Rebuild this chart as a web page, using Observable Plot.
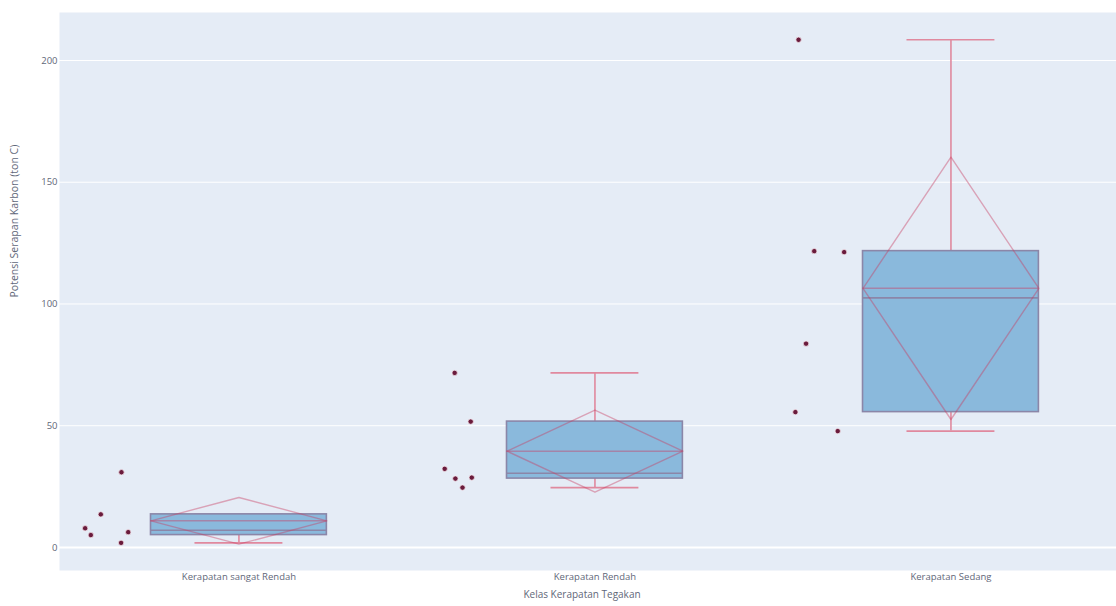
<!DOCTYPE html>
<html>
<head>
<meta charset="utf-8">
<script src="https://cdn.jsdelivr.net/npm/d3@7"></script>
<script src="https://cdn.jsdelivr.net/npm/@observablehq/plot@0.6"></script>
<style>
  html, body { margin: 0; padding: 0; background: #ffffff; }
  #chart svg { display: block; }
</style>
</head>
<body>
<div id="chart"></div>
<script>
// Stand density classes
const categories = ["Kerapatan sangat Rendah", "Kerapatan Rendah", "Kerapatan Sedang"];

// Carbon sequestration potential per plot (ton C), one list per class
const sangatRendah = [30.9, 13.6, 7.9, 5.1, 6.3, 1.9];
const rendah = [71.7, 51.7, 32.3, 28.3, 28.7, 24.6];
const sedang = [208.5, 121.7, 121.3, 83.7, 55.6, 47.8];

// Horizontal jitter of each plotted observation, in category widths from the class centre
const jitterSangatRendah = [-0.330, -0.388, -0.432, -0.416, -0.311, -0.331];
const jitterRendah = [-0.394, -0.349, -0.422, -0.392, -0.346, -0.372];
const jitterSedang = [-0.428, -0.384, -0.300, -0.407, -0.437, -0.318];

const yTicks = [0, 50, 100, 150, 200];
const xTitle = "Kelas Kerapatan Tegakan";
const yTitle = "Potensi Serapan Karbon (ton C)";

const groups = [sangatRendah, rendah, sedang];
const jitters = [jitterSangatRendah, jitterRendah, jitterSedang];

// Box statistics: quartiles as medians of lower / upper halves, 1.5 IQR whiskers, population SD
function stats(values, i) {
  const s = values.slice().sort(d3.ascending);
  const n = s.length;
  const half = Math.floor(n / 2);
  const lower = s.slice(0, half);
  const upper = s.slice(n % 2 ? half + 1 : half);
  const q1 = d3.median(lower), q3 = d3.median(upper), med = d3.median(s);
  const iqr = q3 - q1;
  const lo = d3.min(s.filter(v => v >= q1 - 1.5 * iqr));
  const hi = d3.max(s.filter(v => v <= q3 + 1.5 * iqr));
  const mean = d3.mean(s);
  const sd = Math.sqrt(d3.mean(s, v => (v - mean) ** 2));
  return {i, q1, q3, med, lo, hi, mean, sd};
}
const boxes = groups.map(stats);

const points = groups.flatMap((vals, i) => vals.map((v, j) => ({i, v, x: i + jitters[i][j]})));

const hw = 0.247;          // half box width (category units)
const cap = hw / 2;        // half whisker-cap width
const whiskerColor = "#e0899e";
const boxLine = "#8b86a8";
const meanColor = "rgba(200, 60, 95, 0.42)";

const diamond = boxes.flatMap(b => [
  {i: b.i, x: b.i - hw, y: b.mean},
  {i: b.i, x: b.i, y: b.mean + b.sd},
  {i: b.i, x: b.i + hw, y: b.mean},
  {i: b.i, x: b.i, y: b.mean - b.sd},
  {i: b.i, x: b.i - hw, y: b.mean}
]);

const chart = Plot.plot({
  width: 1116,
  height: 606,
  marginLeft: 59,
  marginRight: 0,
  marginTop: 12,
  marginBottom: 36,
  style: {fontFamily: "'Open Sans', sans-serif", fontSize: "9.5px", color: "#5f6779", background: "#ffffff"},
  x: {type: "linear", domain: [-0.504, 2.465]},
  y: {domain: [-9.45, 219.7]},
  marks: [
    Plot.frame({fill: "#E5ECF6", stroke: "none"}),
    Plot.gridY(yTicks, {stroke: "#ffffff", strokeOpacity: 1, strokeWidth: 1}),
    Plot.ruleY([0], {stroke: "#ffffff", strokeWidth: 2}),
    Plot.axisY(yTicks, {tickSize: 0, tickPadding: 2, label: null, fill: "#5f6779"}),
    Plot.axisX([0, 1, 2], {tickSize: 0, tickPadding: 3, label: null, tickFormat: d => categories[d], fill: "#5f6779"}),
    Plot.text([yTitle], {frameAnchor: "left", dx: -45, dy: 6, rotate: -90, fontSize: 10.5, fill: "#5f6779"}),
    Plot.text([xTitle], {frameAnchor: "bottom", dy: 27, dx: -6, fontSize: 10, fill: "#5f6779"}),
    // whiskers and caps
    Plot.ruleX(boxes, {x: "i", y1: "q3", y2: "hi", stroke: whiskerColor, strokeWidth: 1.6}),
    Plot.ruleX(boxes, {x: "i", y1: "lo", y2: "q1", stroke: whiskerColor, strokeWidth: 1.6}),
    Plot.ruleY(boxes, {y: "hi", x1: d => d.i - cap, x2: d => d.i + cap, stroke: whiskerColor, strokeWidth: 1.6}),
    Plot.ruleY(boxes, {y: "lo", x1: d => d.i - cap, x2: d => d.i + cap, stroke: whiskerColor, strokeWidth: 1.6}),
    // boxes
    Plot.rect(boxes, {x1: d => d.i - hw, x2: d => d.i + hw, y1: "q1", y2: "q3", fill: "#8ab9dc", stroke: boxLine, strokeWidth: 1.6}),
    Plot.ruleY(boxes, {y: "med", x1: d => d.i - hw, x2: d => d.i + hw, stroke: boxLine, strokeWidth: 1.6}),
    // mean and standard deviation diamond
    Plot.ruleY(boxes, {y: "mean", x1: d => d.i - hw, x2: d => d.i + hw, stroke: meanColor, strokeWidth: 1.4}),
    Plot.line(diamond, {x: "x", y: "y", z: "i", stroke: meanColor, strokeWidth: 1.4}),
    // observations
    Plot.dot(points, {x: "x", y: "v", r: 2.7, fill: "#6a1b3c", stroke: "#f3e3ea", strokeWidth: 0.8})
  ]
});

document.getElementById("chart").appendChild(chart);
</script>
</body>
</html>
